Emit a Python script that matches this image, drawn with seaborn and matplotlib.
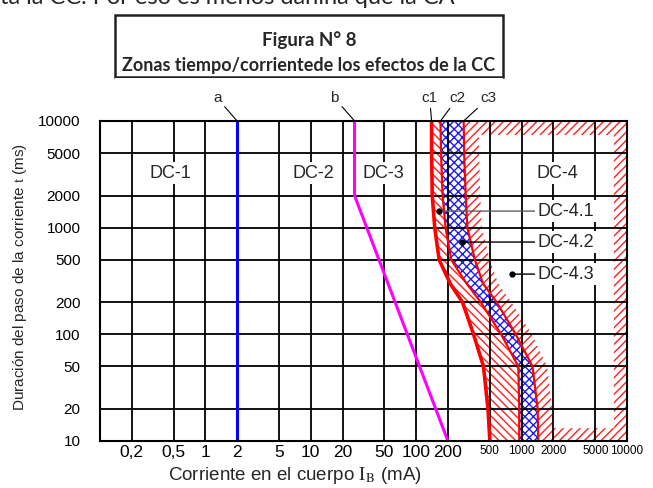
import numpy as np
import matplotlib
matplotlib.use("Agg")
import matplotlib.pyplot as plt
from matplotlib.patches import Rectangle
import seaborn as sns

# axis ticks
x_ticks = [0.2, 0.5, 1, 2, 5, 10, 20, 50, 100, 200, 500, 1000, 2000, 5000, 10000]
x_labels = ['0,2', '0,5', '1', '2', '5', '10', '20', '50', '100', '200',
            '500', '1000', '2000', '5000', '10000']
y_ticks = [10, 20, 50, 100, 200, 500, 1000, 2000, 5000, 10000]

# curve a and b (current mA vs time ms)
a_t = [10, 10000]
a_i = [2, 2]
b_t = [10, 2000, 10000]
b_i = [200, 26, 26]

# curves c1, c2, c3 read at these durations
t_c = [10, 20, 50, 100, 200, 300, 500, 1000, 2000, 5000, 10000]
c1_i = [500, 480, 435, 350, 275, 210, 165, 150, 142, 140, 140]
c2_i = [950, 950, 930, 640, 410, 300, 215, 190, 178, 172, 170]
c3_i = [1440, 1420, 1270, 880, 580, 430, 360, 306, 295, 285, 282]
band_i = [2000, 1950, 1750, 1250, 800, 600, 500, 420, 405, 395, 392]

# zone labels
zones = ['DC-1', 'DC-2', 'DC-3', 'DC-4']
zone_x = [0.47, 10.5, 49, 2200]
zone_y = [3250, 3250, 3250, 3250]

sub_zones = ['DC-4.1', 'DC-4.2', 'DC-4.3']
sub_dot_x = [163, 270, 805]
sub_y = [1430, 733, 367]
sub_line = ['#606060', 'black', 'black']

sns.set_theme(style='white')
plt.rcParams['font.family'] = ['Liberation Sans', 'DejaVu Sans']
plt.rcParams['mathtext.fontset'] = 'stix'
plt.rcParams['hatch.linewidth'] = 1.0

fig = plt.figure(figsize=(6.53, 4.88), dpi=100)
ax = fig.add_axes([100 / 653, 1 - 441 / 488, 527 / 653, 320 / 488])
ax.set_xscale('log')
ax.set_yscale('log')
ax.set_xlim(0.1, 10000)
ax.set_ylim(10, 10000)

# zone DC-4.3 hatching along c3 and the border, white interior
ax.fill_betweenx(t_c, c3_i, 10000, facecolor='none', edgecolor='#ff2020',
                 hatch='////', linewidth=0, zorder=1)
yy = np.logspace(np.log10(13.2), np.log10(7400), 200)
xl = 10 ** np.interp(np.log10(yy), np.log10(t_c), np.log10(band_i))
ax.fill_betweenx(yy, xl, 7500, facecolor='white', edgecolor='none',
                 linewidth=0, zorder=1.1)
# DC-4.1 and DC-4.2
ax.fill_betweenx(t_c, c1_i, c2_i, facecolor='none', edgecolor='#ff2020',
                 hatch='\\\\\\\\', linewidth=0, zorder=1.2)
ax.fill_betweenx(t_c, c2_i, c3_i, facecolor='white', edgecolor='#1a1aff',
                 hatch='xxxx', linewidth=0, zorder=1.3)

# grid
for xv in x_ticks[:-1]:
    ax.axvline(xv, color='black', lw=1.3, zorder=2)
for yv in y_ticks[1:-1]:
    ax.axhline(yv, color='black', lw=1.3, zorder=2)

sns.lineplot(x=a_i, y=a_t, ax=ax, color='#0000ff', lw=2.2, sort=False,
             estimator=None, zorder=4)
sns.lineplot(x=b_i, y=b_t, ax=ax, color='#ff00ff', lw=2.2, sort=False,
             estimator=None, zorder=4)
sns.lineplot(x=c1_i, y=t_c, ax=ax, color='#ff0000', lw=2.6, sort=False,
             estimator=None, zorder=4)
sns.lineplot(x=c2_i, y=t_c, ax=ax, color='#ff0000', lw=1.6, sort=False,
             estimator=None, zorder=4)
sns.lineplot(x=c3_i, y=t_c, ax=ax, color='#ff0000', lw=1.6, sort=False,
             estimator=None, zorder=4)

for s in ax.spines.values():
    s.set_color('black')
    s.set_linewidth(1.5)
    s.set_zorder(5)

ax.set_xticks(x_ticks)
ax.set_xticklabels(x_labels)
ax.set_yticks(y_ticks)
ax.set_yticklabels([str(v) for v in y_ticks])
ax.minorticks_off()
ax.tick_params(axis='x', length=0, pad=3, colors='black')
ax.tick_params(axis='y', length=0, pad=14, labelsize=11, colors='black')
for lab in ax.get_xticklabels()[10:]:
    lab.set_fontsize(8.5)
for lab in ax.get_xticklabels()[:10]:
    lab.set_fontsize(12.5)

box = dict(facecolor='white', edgecolor='none', pad=1.5)
for name, xv, yv in zip(zones, zone_x, zone_y):
    ax.text(xv, yv, name, ha='center', va='center', fontsize=13, bbox=box, zorder=6)

for name, dx, yv, lc in zip(sub_zones, sub_dot_x, sub_y, sub_line):
    ax.annotate(name, xy=(dx, yv), xytext=(1420, yv), textcoords='data',
                ha='left', va='center', fontsize=13, bbox=box, zorder=6,
                arrowprops=dict(arrowstyle='-', color=lc, lw=1.0,
                                shrinkA=0, shrinkB=0))
    ax.plot(dx, yv, 'o', color='black', ms=3.5, zorder=7)

# curve names above the chart
curve_names = ['a', 'b', 'c1', 'c2', 'c3']
curve_top = [2, 26, 140, 170, 282]
name_offset = [(-20, 16), (-20, 16), (-2, 16), (17, 16), (25, 16)]
for name, xv, off in zip(curve_names, curve_top, name_offset):
    ax.annotate(name, xy=(xv, 10000), xytext=off, textcoords='offset pixels',
                ha='center', va='bottom', fontsize=11, annotation_clip=False,
                arrowprops=dict(arrowstyle='-', color='black', lw=0.8,
                                shrinkA=0, shrinkB=0))

fig.text(295 / 653, 1 - 476 / 488,
         r'Corriente en el cuerpo $\mathrm{I}_{\mathrm{B}}$ (mA)',
         ha='center', va='center', fontsize=13.5)
fig.text(20 / 653, 1 - 277 / 488,
         r'Duración del paso de la corriente $\mathrm{t}$ (ms)',
         ha='center', va='center', rotation=90, fontsize=11)

# title box
fig.patches.append(Rectangle((115 / 653, 1 - 77 / 488), 388 / 653, 62 / 488,
                             transform=fig.transFigure, facecolor='white',
                             edgecolor='#222222', lw=1.8, zorder=0))
fig.text(309 / 653, 1 - 40 / 488, 'Figura N° 8', ha='center', va='center',
         fontsize=13.5, fontweight='bold', family=['Lato', 'DejaVu Sans'], zorder=1)
fig.text(309 / 653, 1 - 66 / 488, 'Zonas tiempo/corrientede los efectos de la CC',
         ha='center', va='center', fontsize=13, fontweight='bold',
         family=['Lato', 'DejaVu Sans'], zorder=1)
# cover descenders below the box edge
fig.patches.append(Rectangle((115 / 653, 1 - 80 / 488), 388 / 653, 2 / 488,
                             transform=fig.transFigure, facecolor='white',
                             edgecolor='none', zorder=2))
fig.text(0.0, 1 - 4 / 488, 'ta la CC. Por eso es menos dañina que la CA',
         ha='left', va='baseline', fontsize=17, family=['Lato', 'DejaVu Sans'])

fig.savefig('out.png', dpi=100)
